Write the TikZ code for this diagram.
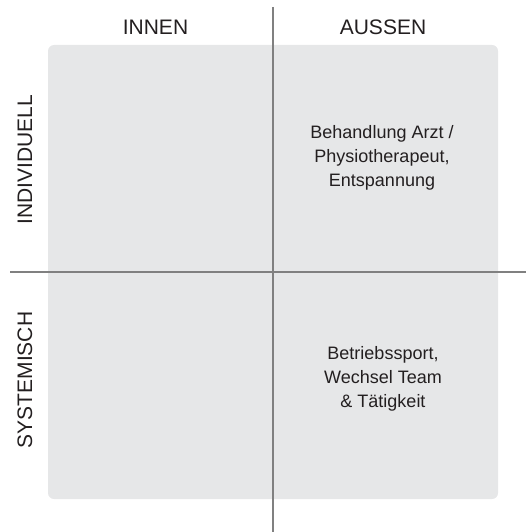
\documentclass[tikz,border=0pt]{standalone}
\usepackage{fontspec}
\setmainfont{Liberation Sans}
\definecolor{panel}{HTML}{E6E7E8}
\definecolor{axis}{HTML}{808080}
\definecolor{ink}{HTML}{231F20}
\begin{document}
\begin{tikzpicture}[x=1pt,y=-1pt,
  heading/.style={text=ink,font=\fontsize{21}{25}\selectfont,inner sep=0pt},
  body/.style={text=ink,font=\fontsize{18}{24}\selectfont,align=center,inner sep=0pt},
  axisline/.style={draw=axis,line width=1.3pt}]
  \useasboundingbox (0,0) rectangle (526,532);
  % quadrant panel
  \fill[panel,rounded corners=6pt] (48,45) rectangle (498,499);
  % axes
  \coordinate (vtop) at (273,7);
  \coordinate (vbot) at (273,532);
  \coordinate (hleft) at (10,272);
  \coordinate (hright) at (526,272);
  \draw[axisline] (vtop) -- (vbot);
  \draw[axisline] (hleft) -- (hright);
  % column headings
  \node[heading] (innen) at (155.5,27.5) {INNEN};
  \node[heading] (aussen) at (383,27.5) {AUSSEN};
  % row headings
  \node[heading,rotate=90] (indiv) at (25,160) {INDIVIDUELL};
  \node[heading,rotate=90] (system) at (25,380) {SYSTEMISCH};
  % quadrant contents
  \node[body] (q1) at (382,158) {Behandlung Arzt /\\Physiotherapeut,\\Entspannung};
  \node[body] (q2) at (383,379) {Betriebssport,\\Wechsel Team\\\& Tätigkeit};
\end{tikzpicture}
\end{document}
